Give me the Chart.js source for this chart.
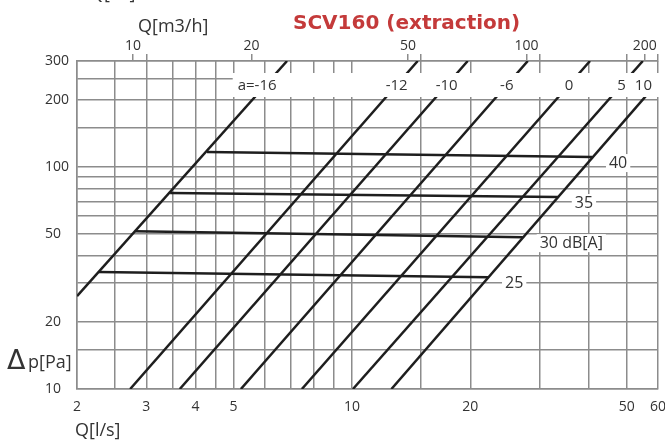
<!DOCTYPE html>
<html>
<head>
<meta charset="utf-8">
<script src="https://cdn.jsdelivr.net/npm/chart.js@4.4.4/dist/chart.umd.min.js"></script>
<style>
  html, body { margin: 0; padding: 0; background: #fff; }
  #wrap { width: 665px; height: 442px; position: relative; }
</style>
</head>
<body>
<div id="wrap"><canvas id="chart"></canvas></div>
<script>
// damper setting lines a=..., endpoints (Q in l/s, dp in Pa)
const aNames = ["-16", "-12", "-10", "-6", "0", "5", "10"]
const aQ = [[2, 6.84], [2.73, 14.7], [3.65, 19.7], [5.22, 28.0], [7.46, 40.3], [10.06, 54.9], [12.6, 60]]
const aDp = [[26.2, 300], [10, 300], [10, 300], [10, 300], [10, 300], [10, 300], [10, 241]]

// sound level lines, dB(A)
const dbNames = ["40", "35", "30", "25"]
const dbUnit = "dB[A]"
const dbQ = [[4.28, 40.8], [3.45, 33.4], [2.81, 27.2], [2.27, 22.2]]
const dbDp = [[116.7, 110.8], [76.3, 73.2], [51.4, 48.3], [33.6, 31.9]]

// axes
const qGrid = [2, 2.5, 3, 3.5, 4, 4.5, 5, 6, 7, 8, 9, 10, 15, 20, 30, 40, 50, 60]
const qLabels = [2, 3, 4, 5, 10, 20, 50, 60]
const m3hTicks = [10, 10.8, 20, 50, 54, 100, 108, 180, 200, 216]
const m3hLabels = [10, 20, 50, 100, 200]
const dpGrid = [10, 15, 20, 30, 40, 50, 60, 70, 80, 90, 100, 150, 200, 250, 300]
const dpLabels = [10, 20, 50, 100, 200, 300]

const GRID = "#8c8c8c"
const INK = "#333"
const LINE = "#1e1e1e"

const seg = (qs, ps) => [{x: qs[0], y: ps[0]}, {x: qs[1], y: ps[1]}]

const datasets = []
aNames.forEach((n, i) => datasets.push({
  label: "a=" + n, data: seg(aQ[i], aDp[i]),
  showLine: true, borderColor: LINE, borderWidth: 2.5, pointRadius: 0, borderCapStyle: "butt"
}))
dbNames.forEach((n, i) => datasets.push({
  label: n + " dB(A)", data: seg(dbQ[i], dbDp[i]),
  showLine: true, borderColor: LINE, borderWidth: 2.5, pointRadius: 0, borderCapStyle: "butt"
}))

// pixel x where a segment crosses a given pixel y
function crossX(xs, ys, yPix, i) {
  const x0 = xs.getPixelForValue(aQ[i][0]), y0 = ys.getPixelForValue(aDp[i][0])
  const x1 = xs.getPixelForValue(aQ[i][1]), y1 = ys.getPixelForValue(aDp[i][1])
  return x0 + (x1 - x0) * (yPix - y0) / (y1 - y0)
}

// fixed axis boxes so the plot area sits where the original has it
const fitBox = (h, w) => (s) => {
  if (h) s.height = h
  if (w) s.width = w
  s.paddingLeft = 0
  s.paddingRight = 7
}

const annotate = {
  id: "annotate",
  afterDatasetsDraw(chart) {
    const {ctx, chartArea: ca, scales: {x, y}} = chart
    ctx.save()

    // white band carrying the a= labels
    ctx.font = "15px 'Open Sans'"
    ctx.textBaseline = "middle"
    const bandY = ca.top + 24
    const firstRight = crossX(x, y, bandY, 0) + ctx.measureText(aNames[0]).width / 2
    const bandLeft = firstRight - ctx.measureText("a=" + aNames[0]).width - 5
    ctx.fillStyle = "#fff"
    ctx.fillRect(bandLeft, ca.top + 12, ca.right + 3 - bandLeft, 24)
    ctx.fillStyle = INK
    aNames.forEach((n, i) => {
      if (i === 0) {
        ctx.textAlign = "right"
        ctx.fillText("a=" + n, firstRight, bandY + 1)
        return
      }
      const w = ctx.measureText(n).width
      let cx = crossX(x, y, bandY, i)
      cx = Math.min(cx, ca.right - 6 - w / 2)
      ctx.textAlign = "center"
      ctx.fillText(n, cx, bandY + 1)
    })

    // dB(A) labels at the right end of each sound line
    ctx.font = "16px 'Open Sans'"
    ctx.textAlign = "left"
    dbNames.forEach((n, i) => {
      const txt = n === "30" ? n + " " + dbUnit : n
      const ex = x.getPixelForValue(dbQ[i][1]) + 26
      const ey = y.getPixelForValue(dbDp[i][1]) + 6
      const left = ex - ctx.measureText(n).width / 2
      const tw = ctx.measureText(txt).width
      ctx.fillStyle = "#fff"
      ctx.fillRect(left - 3, ey - 9, tw + 6, 18)
      ctx.fillStyle = INK
      ctx.fillText(txt, left, ey)
    })
    ctx.restore()
  },
  afterDraw(chart) {
    const {ctx} = chart
    ctx.save()
    ctx.textBaseline = "alphabetic"
    ctx.textAlign = "left"
    ctx.fillStyle = "#c43a3a"
    ctx.font = "bold 20px 'DejaVu Sans'"
    ctx.fillText("SCV160 (extraction)", 293, 29)

    ctx.fillStyle = INK
    ctx.font = "18px 'Open Sans'"
    ctx.fillText("Q[l/s]", 90, -1)
    ctx.fillText("Q[m3/h]", 138, 32)
    ctx.fillText("Q[l/s]", 75, 436)
    ctx.fillText("p[Pa]", 28, 368)
    ctx.font = "27px 'DejaVu Sans'"
    ctx.fillText("Δ", 7, 369)
    ctx.restore()
  }
}

new Chart(document.getElementById("chart"), {
  type: "scatter",
  data: {datasets},
  options: {
    responsive: true,
    maintainAspectRatio: false,
    animation: false,
    layout: {padding: {left: 45, right: 0, top: 0, bottom: 0}},
    plugins: {legend: {display: false}, tooltip: {enabled: false}},
    scales: {
      x: {
        type: "logarithmic", position: "bottom", min: 2, max: 60,
        afterBuildTicks: (s) => { s.ticks = qGrid.map(v => ({value: v})) },
        afterFit: fitBox(53, 0),
        grid: {color: GRID, lineWidth: 1.5, drawTicks: false},
        border: {color: GRID, width: 1.5},
        ticks: {
          autoSkip: false, maxRotation: 0, padding: 10, color: INK,
          font: {family: "'Open Sans'", size: 14},
          callback: (v) => qLabels.includes(v) ? String(v) : ""
        }
      },
      x2: {
        type: "logarithmic", position: "top", min: 7.2, max: 216,
        afterBuildTicks: (s) => { s.ticks = m3hTicks.map(v => ({value: v})) },
        afterFit: fitBox(61, 0),
        grid: {color: GRID, lineWidth: 1.5, drawOnChartArea: false, drawTicks: true, tickLength: 7},
        border: {color: GRID, width: 1.5},
        ticks: {
          autoSkip: false, maxRotation: 0, padding: 0, color: INK,
          font: {family: "'Open Sans'", size: 14},
          callback: (v) => m3hLabels.includes(v) ? String(v) : ""
        }
      },
      y: {
        type: "logarithmic", position: "left", min: 10, max: 300,
        afterBuildTicks: (s) => { s.ticks = dpGrid.map(v => ({value: v})) },
        afterFit: (s) => { s.width = 32; s.paddingTop = 0; s.paddingBottom = 0 },
        grid: {color: GRID, lineWidth: 1.5, drawTicks: false},
        border: {color: GRID, width: 1.5},
        ticks: {
          autoSkip: false, padding: 8, color: INK, crossAlign: "far",
          font: {family: "'Open Sans'", size: 14},
          callback: (v) => dpLabels.includes(v) ? String(v) : ""
        }
      }
    }
  },
  plugins: [annotate]
})
</script>
</body>
</html>
